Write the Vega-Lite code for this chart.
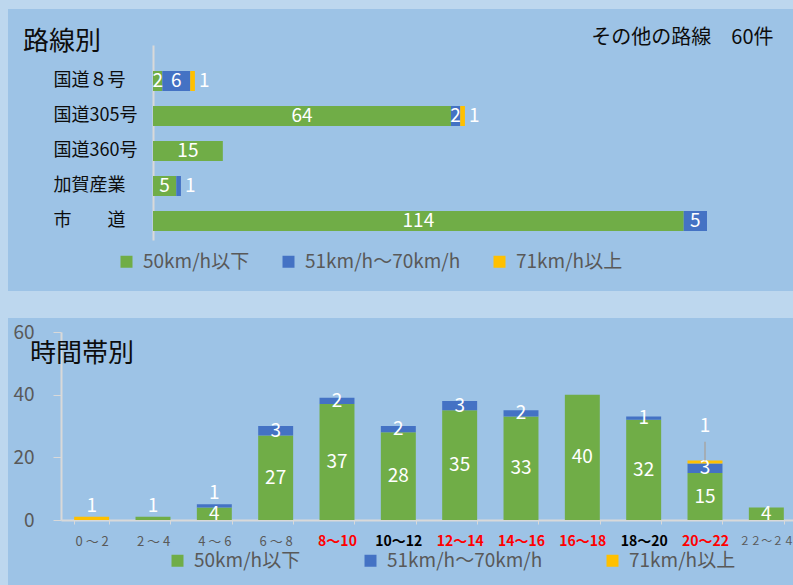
{
  "$schema": "https://vega.github.io/schema/vega-lite/v6.json",
  "background": "#bdd7ee",
  "padding": {"left": 8, "top": 9, "right": 0, "bottom": 0},
  "spacing": 27,
  "config": {
    "font": "Noto Sans CJK JP",
    "view": {"fill": "#9dc3e6", "stroke": null},
    "axis": {"grid": false}
  },
  "datasets": {
    "routes": [
      {"route": "国道８号", "speed": "50km/h以下", "value": 2},
      {"route": "国道８号", "speed": "51km/h～70km/h", "value": 6},
      {"route": "国道８号", "speed": "71km/h以上", "value": 1},
      {"route": "国道305号", "speed": "50km/h以下", "value": 64},
      {"route": "国道305号", "speed": "51km/h～70km/h", "value": 2},
      {"route": "国道305号", "speed": "71km/h以上", "value": 1},
      {"route": "国道360号", "speed": "50km/h以下", "value": 15},
      {"route": "加賀産業", "speed": "50km/h以下", "value": 5},
      {"route": "加賀産業", "speed": "51km/h～70km/h", "value": 1},
      {"route": "市　　道", "speed": "50km/h以下", "value": 114},
      {"route": "市　　道", "speed": "51km/h～70km/h", "value": 5}
    ],
    "hours": [
      {"t": "0 ～ 2", "speed": "71km/h以上", "value": 1},
      {"t": "2 ～ 4", "speed": "50km/h以下", "value": 1},
      {"t": "4 ～ 6", "speed": "50km/h以下", "value": 4},
      {"t": "4 ～ 6", "speed": "51km/h～70km/h", "value": 1},
      {"t": "6 ～ 8", "speed": "50km/h以下", "value": 27},
      {"t": "6 ～ 8", "speed": "51km/h～70km/h", "value": 3},
      {"t": "8～10", "speed": "50km/h以下", "value": 37},
      {"t": "8～10", "speed": "51km/h～70km/h", "value": 2},
      {"t": "10～12", "speed": "50km/h以下", "value": 28},
      {"t": "10～12", "speed": "51km/h～70km/h", "value": 2},
      {"t": "12～14", "speed": "50km/h以下", "value": 35},
      {"t": "12～14", "speed": "51km/h～70km/h", "value": 3},
      {"t": "14～16", "speed": "50km/h以下", "value": 33},
      {"t": "14～16", "speed": "51km/h～70km/h", "value": 2},
      {"t": "16～18", "speed": "50km/h以下", "value": 40},
      {"t": "18～20", "speed": "50km/h以下", "value": 32},
      {"t": "18～20", "speed": "51km/h～70km/h", "value": 1},
      {"t": "20～22", "speed": "50km/h以下", "value": 15},
      {"t": "20～22", "speed": "51km/h～70km/h", "value": 3},
      {"t": "20～22", "speed": "71km/h以上", "value": 1},
      {"t": "２２～２４", "speed": "50km/h以下", "value": 4}
    ]
  },
  "resolve": {"scale": {"color": "independent"}, "legend": {"color": "independent"}},
  "vconcat": [
    {
      "width": 785,
      "height": 282,
      "data": {"name": "routes"},
      "title": {"text": "路線別", "anchor": "start", "frame": "group", "offset": 0, "dx": 15, "dy": 59, "baseline": "middle", "fontSize": 26, "fontWeight": "normal", "color": "#0d0d0d"},
      "layer": [
        {
          "mark": {"type": "bar"},
          "encoding": {
            "y": {
              "field": "route", "type": "nominal",
              "scale": {"domain": ["国道８号", "国道305号", "国道360号", "加賀産業", "市　　道"], "range": [36, 231], "paddingInner": 0.4286, "paddingOuter": 0.5, "align": 0.743},
              "axis": {"orient": "left", "offset": -145, "title": null, "ticks": false, "tickSize": 0, "labelPadding": 100, "labelAlign": "left", "labelFontSize": 18, "labelColor": "#0d0d0d", "domainColor": "#d9d9d9", "domainWidth": 2}
            },
            "x": {
              "field": "value", "type": "quantitative", "stack": "zero",
              "scale": {"domain": [0, 119], "range": [145, 699], "nice": false, "zero": true},
              "axis": {"orient": "top", "domain": false, "ticks": false, "labels": false, "grid": false, "title": "その他の路線　60件", "titleX": 765, "titleY": 28, "titleAlign": "right", "titleBaseline": "middle", "titleFontSize": 20, "titleFontWeight": "normal", "titleColor": "#0d0d0d"}
            },
            "color": {
              "field": "speed", "type": "nominal",
              "scale": {"domain": ["50km/h以下", "51km/h～70km/h", "71km/h以上"], "range": ["#70ad47", "#4472c4", "#ffc000"]},
              "legend": {"orient": "none", "legendX": 109, "legendY": 243, "direction": "horizontal", "title": null, "padding": 0, "symbolType": "square", "symbolSize": 144, "symbolStrokeWidth": 0, "symbolOpacity": 1, "labelFontSize": 19, "labelColor": "#595959", "labelLimit": 300, "labelOffset": 7, "columnPadding": 29}
            },
            "order": {"field": "speed", "type": "ordinal", "sort": "ascending"}
          }
        },
        {
          "mark": {"type": "text", "color": "white", "fontSize": 19, "baseline": "middle"},
          "encoding": {
            "y": {"field": "route", "type": "nominal"},
            "x": {"field": "value", "type": "quantitative", "stack": "zero", "bandPosition": 0.5},
            "detail": {"field": "speed"},
            "order": {"field": "speed", "type": "ordinal", "sort": "ascending"},
            "text": {"condition": {"test": "datum.value > 1", "field": "value", "type": "quantitative"}, "value": ""}
          }
        },
        {
          "mark": {"type": "text", "color": "white", "fontSize": 19, "baseline": "middle", "align": "left", "dx": 4},
          "encoding": {
            "y": {"field": "route", "type": "nominal"},
            "x": {"field": "value", "type": "quantitative", "stack": "zero"},
            "detail": {"field": "speed"},
            "order": {"field": "speed", "type": "ordinal", "sort": "ascending"},
            "text": {"condition": {"test": "datum.value == 1", "field": "value", "type": "quantitative"}, "value": ""}
          }
        }
      ]
    },
    {
      "width": 785,
      "height": 267,
      "data": {"name": "hours"},
      "title": {"text": "時間帯別", "anchor": "start", "frame": "group", "offset": 0, "dx": 22, "dy": 62, "baseline": "middle", "fontSize": 26, "fontWeight": "normal", "color": "#0d0d0d"},
      "layer": [
        {
          "mark": {"type": "bar"},
          "encoding": {
            "x": {
              "field": "t", "type": "nominal",
              "scale": {"domain": ["0 ～ 2", "2 ～ 4", "4 ～ 6", "6 ～ 8", "8～10", "10～12", "12～14", "14～16", "16～18", "18～20", "20～22", "２２～２４"], "range": [53, 789], "paddingInner": 0.43, "paddingOuter": 0.215},
              "axis": {
                "offset": -65, "title": null, "labelAngle": 0, "tickBand": "extent", "tickSize": 4, "tickColor": "#d9d9d9", "domainColor": "#d9d9d9", "domainWidth": 2, "labelPadding": 17, "labelBaseline": "middle",
                "labelColor": {"condition": [
                  {"test": "indexof(['8～10','12～14','14～16','16～18','20～22'], datum.value) >= 0", "value": "#ff0000"},
                  {"test": "indexof(['10～12','18～20'], datum.value) >= 0", "value": "#000000"}
                ], "value": "#595959"},
                "labelFontWeight": {"condition": {"test": "indexof(['0 ～ 2','2 ～ 4','4 ～ 6','6 ～ 8','２２～２４'], datum.value) >= 0", "value": "normal"}, "value": "bold"},
                "labelFontSize": {"condition": [
                  {"test": "datum.value == '２２～２４'", "value": 11},
                  {"test": "indexof(['0 ～ 2','2 ～ 4','4 ～ 6','6 ～ 8'], datum.value) >= 0", "value": 13}
                ], "value": 14}
              }
            },
            "y": {
              "field": "value", "type": "quantitative", "stack": "zero",
              "scale": {"domain": [0, 60], "range": [202, 14], "nice": false},
              "axis": {"offset": -53, "title": null, "values": [0, 20, 40, 60], "tickSize": 8, "tickColor": "#d9d9d9", "domainColor": "#d9d9d9", "domainWidth": 2, "labelPadding": 19, "labelFontSize": 19, "labelColor": "#595959"}
            },
            "color": {
              "field": "speed", "type": "nominal",
              "scale": {"domain": ["50km/h以下", "51km/h～70km/h", "71km/h以上"], "range": ["#70ad47", "#4472c4", "#ffc000"]},
              "legend": {"orient": "none", "legendX": 160, "legendY": 233, "direction": "horizontal", "title": null, "padding": 0, "symbolType": "square", "symbolSize": 144, "symbolStrokeWidth": 0, "symbolOpacity": 1, "labelFontSize": 19, "labelColor": "#595959", "labelLimit": 300, "labelOffset": 7, "columnPadding": 60}
            },
            "order": {"field": "speed", "type": "ordinal", "sort": "ascending"}
          }
        },
        {
          "mark": {"type": "text", "color": "white", "fontSize": 19, "baseline": "middle"},
          "encoding": {
            "x": {"field": "t", "type": "nominal"},
            "y": {"field": "value", "type": "quantitative", "stack": "zero", "bandPosition": 0.5},
            "detail": {"field": "speed"},
            "order": {"field": "speed", "type": "ordinal", "sort": "ascending"},
            "text": {"condition": {"test": "!(datum.value == 1 && indexof(['0 ～ 2','2 ～ 4','4 ～ 6','20～22'], datum.t) >= 0)", "field": "value", "type": "quantitative"}, "value": ""}
          }
        },
        {
          "mark": {"type": "text", "color": "white", "fontSize": 19, "baseline": "middle", "dy": -11},
          "encoding": {
            "x": {"field": "t", "type": "nominal"},
            "y": {"field": "value", "type": "quantitative", "stack": "zero"},
            "detail": {"field": "speed"},
            "order": {"field": "speed", "type": "ordinal", "sort": "ascending"},
            "text": {"condition": {"test": "datum.value == 1 && indexof(['0 ～ 2','2 ～ 4','4 ～ 6'], datum.t) >= 0", "field": "value", "type": "quantitative"}, "value": ""}
          }
        },
        {
          "mark": {"type": "text", "color": "white", "fontSize": 19, "baseline": "middle", "dy": -34},
          "encoding": {
            "x": {"field": "t", "type": "nominal"},
            "y": {"field": "value", "type": "quantitative", "stack": "zero"},
            "detail": {"field": "speed"},
            "order": {"field": "speed", "type": "ordinal", "sort": "ascending"},
            "text": {"condition": {"test": "datum.value == 1 && datum.t == '20～22'", "field": "value", "type": "quantitative"}, "value": ""}
          }
        },
        {
          "transform": [
            {"stack": "value", "groupby": ["t"], "sort": [{"field": "speed", "order": "ascending"}], "as": ["v0", "v1"]},
            {"filter": "datum.t == '20～22' && datum.value == 1"}
          ],
          "mark": {"type": "rule", "color": "#a6a6a6", "strokeWidth": 1.5},
          "encoding": {
            "x": {"field": "t", "type": "nominal"},
            "y": {"field": "v1", "type": "quantitative"},
            "y2": {"datum": 25}
          }
        }
      ]
    }
  ]
}
